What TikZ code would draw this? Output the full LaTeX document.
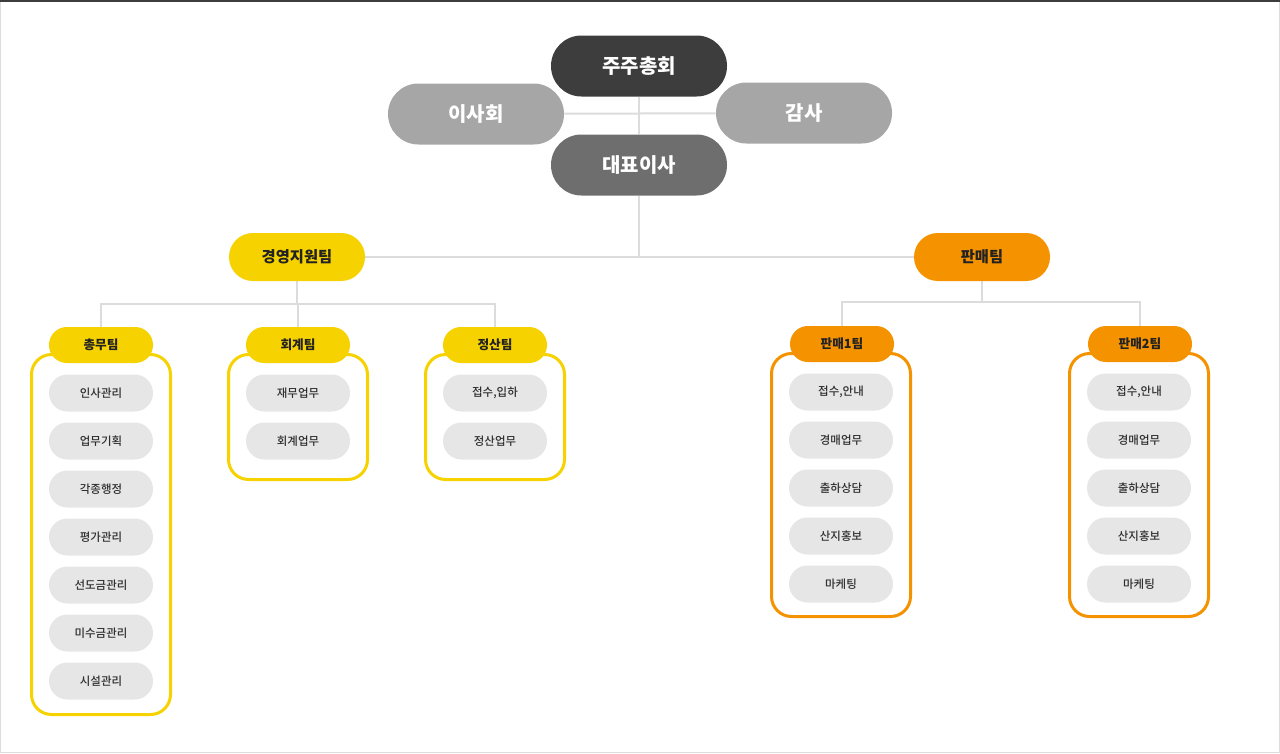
\documentclass[tikz,border=0pt]{standalone}
\usepackage{fontspec}
\setmainfont{Noto Sans CJK KR}
\newfontfamily\krmed{Noto Sans CJK KR Medium}
\usetikzlibrary{backgrounds}
\definecolor{headgray}{HTML}{3D3D3D}
\definecolor{boardgray}{HTML}{A6A6A6}
\definecolor{ceogray}{HTML}{6E6E6E}
\definecolor{linegray}{HTML}{DCDCDC}
\definecolor{itemgray}{HTML}{E6E6E6}
\definecolor{txtdark}{HTML}{222222}
\definecolor{txtmid}{HTML}{2E2E2E}
\definecolor{mgmtyellow}{HTML}{F5D200}
\definecolor{salesorange}{HTML}{F59200}

\begin{document}
\begin{tikzpicture}[x=0.75pt,y=-0.75pt,
  topnode/.style={fill=#1, text=white, font=\bfseries\fontsize{15}{18}\selectfont,
    minimum width=132pt, minimum height=45.75pt, rounded corners=22.8pt, inner sep=0pt},
  deptnode/.style={fill=#1, text=txtdark, font=\bfseries\fontsize{11.5}{14}\selectfont,
    minimum width=102pt, minimum height=36pt, rounded corners=17.9pt, inner sep=0pt},
  teamlabel/.style={fill=#1, text=txtdark, font=\bfseries\fontsize{9.5}{12}\selectfont,
    minimum width=78pt, minimum height=27pt, rounded corners=13.4pt, inner sep=0pt},
  teambox/.style={draw=#1, line width=2.25pt, fill=white, minimum width=104.25pt,
    rounded corners=15pt, inner sep=0pt},
  item/.style={fill=itemgray, text=txtmid, font=\krmed\fontsize{8.6}{10}\selectfont,
    minimum width=78pt, minimum height=27.75pt, rounded corners=13.8pt, inner sep=0pt},
  link/.style={draw=linegray, line width=1.5pt}]
  \useasboundingbox (0,0) rectangle (1280,753);
  \draw[linegray, line width=0.75pt] (0.5,0.5) rectangle (1279.5,752.5);
  \draw[headgray, line width=1.5pt] (0,1) -- (1280,1);

  \node[topnode=boardgray] (board) at (476,114) {이사회};
  \node[topnode=boardgray] (audit) at (804,113) {감사};
  \node[topnode=headgray] (meeting) at (639,66) {주주총회};
  \node[topnode=ceogray] (ceo) at (639,165) {대표이사};

  \node[deptnode=mgmtyellow] (mgmt) at (297,257) {경영지원팀};
  \node[deptnode=salesorange] (sales) at (982,257) {판매팀};

  \node[teambox=mgmtyellow, minimum height=270pt] (gabox) at (101,534.5) {};
  \node[teambox=mgmtyellow, minimum height=93.75pt] (acbox) at (298,417) {};
  \node[teambox=mgmtyellow, minimum height=93.75pt] (sebox) at (495,417) {};
  \node[teambox=salesorange, minimum height=197.25pt] (s1box) at (841,485) {};
  \node[teambox=salesorange, minimum height=197.25pt] (s2box) at (1139,485) {};

  \node[teamlabel=mgmtyellow] (ga) at (101,345) {총무팀};
  \node[teamlabel=mgmtyellow] (ac) at (298,345) {회계팀};
  \node[teamlabel=mgmtyellow] (se) at (495,345) {정산팀};
  \node[teamlabel=salesorange] (s1) at (842,344) {판매1팀};
  \node[teamlabel=salesorange] (s2) at (1140,344) {판매2팀};

  \foreach \txt [count=\i] in {인사관리,업무기획,각종행정,평가관리,선도금관리,미수금관리,시설관리}
    \node[item] (ga\i) at (101,{345+48*\i}) {\txt};
  \foreach \txt [count=\i] in {재무업무,회계업무}
    \node[item] (ac\i) at (298,{345+48*\i}) {\txt};
  \foreach \txt [count=\i] in {{접수,입하},정산업무}
    \node[item] (se\i) at (495,{345+48*\i}) {\txt};
  \foreach \txt [count=\i] in {{접수,안내},경매업무,출하상담,산지홍보,마케팅} {
    \node[item] (sa\i) at (841,{344+48*\i}) {\txt};
    \node[item] (sb\i) at (1139,{344+48*\i}) {\txt};
  }

  \coordinate (mgmtbus) at (299,304);
  \coordinate (salesbus) at (982,302);
  \begin{scope}[on background layer]
    \path[link] (meeting) -- (ceo);
    \path[link] (board) -- (audit);
    \path[link] (ceo) -- (ceo |- mgmt);
    \path[link] (mgmt) -- (sales);
    \path[link] (mgmt) -- (mgmt |- mgmtbus);
    \path[link] (ga) |- (mgmtbus) -| (se);
    \path[link] (ac) -- (ac |- mgmtbus);
    \path[link] (sales) -- (salesbus);
    \path[link] (s1) |- (salesbus) -| (s2);
  \end{scope}
\end{tikzpicture}
\end{document}
